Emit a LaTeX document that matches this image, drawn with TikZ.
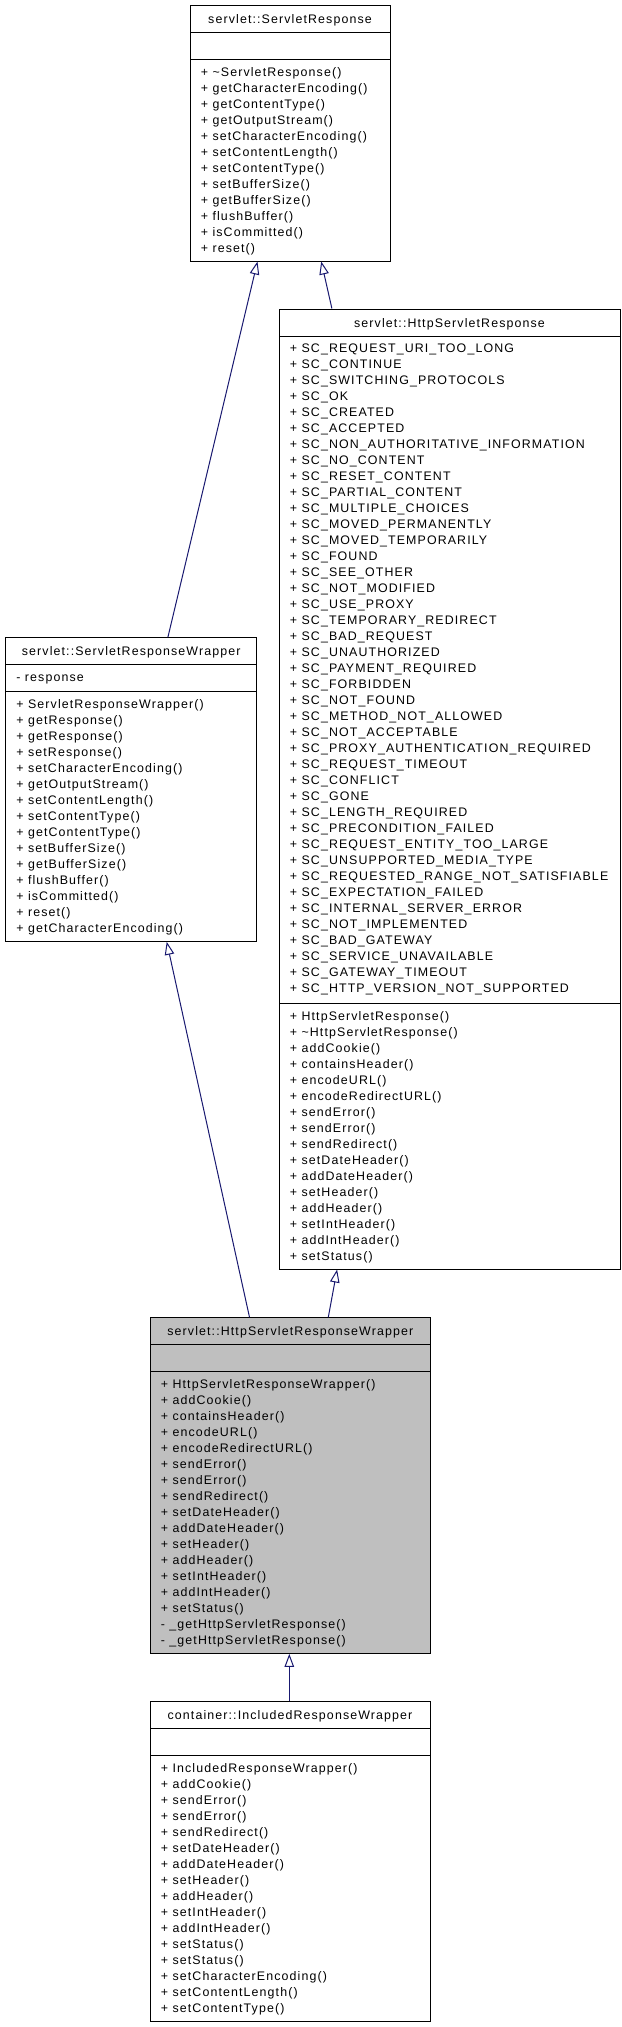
\documentclass[tikz,border=0pt]{standalone}
\usepackage{fontspec}
\newfontfamily\dox[LetterSpace=9]{Liberation Sans}
\usetikzlibrary{arrows.meta,fit}
\definecolor{edgeblue}{HTML}{191970}
\definecolor{boxgray}{HTML}{BFBFBF}
\newcommand\memberlist[4]{%
  \foreach \mtext [count=\k from 0] in {#4}{%
    \node[member] (#1\k) at (#2,{#3+16*\k}) {\mtext};
  }%
}
\begin{document}
\begin{tikzpicture}[x=0.75pt,y=-0.75pt,
  classbox/.style={draw=black,line width=0.75pt,inner sep=0pt,fill=white},
  member/.style={anchor=base west,inner sep=0pt,font=\dox\fontsize{9.3}{12}\selectfont},
  ctitle/.style={anchor=base,inner sep=0pt,font=\dox\fontsize{9.3}{12}\selectfont},
  sepline/.style={line width=0.75pt},
  inherit/.style={draw=edgeblue,line width=0.75pt,-{Triangle[open,length=9.75pt,width=7.1pt]}}]
\useasboundingbox (0,0) rectangle (621,2027);
\fill[white] (0,0) rectangle (621,2027);

% ---------- servlet::ServletResponse ----------
\node[classbox,fit={(190,5)(390,261)}] (A) {};
\draw[sepline] (190,32) -- (390,32);
\draw[sepline] (190,59) -- (390,59);
\node[ctitle] (At) at (290,23) {servlet::ServletResponse};
\memberlist{Am}{200.5}{76}{+ \textasciitilde{}ServletResponse(), + getCharacterEncoding(), + getContentType(), + getOutputStream(), + setCharacterEncoding(), + setContentLength(), + setContentType(), + setBufferSize(), + getBufferSize(), + flushBuffer(), + isCommitted(), + reset()}

% ---------- servlet::HttpServletResponse ----------
\node[classbox,fit={(279,309)(620,1269)}] (B) {};
\draw[sepline] (279,336) -- (620,336);
\draw[sepline] (279,1003) -- (620,1003);
\node[ctitle] (Bt) at (449.5,327) {servlet::HttpServletResponse};
\memberlist{Ba}{289.5}{352.5}{+ SC\_REQUEST\_URI\_TOO\_LONG, + SC\_CONTINUE, + SC\_SWITCHING\_PROTOCOLS, + SC\_OK, + SC\_CREATED, + SC\_ACCEPTED, + SC\_NON\_AUTHORITATIVE\_INFORMATION, + SC\_NO\_CONTENT, + SC\_RESET\_CONTENT, + SC\_PARTIAL\_CONTENT, + SC\_MULTIPLE\_CHOICES, + SC\_MOVED\_PERMANENTLY, + SC\_MOVED\_TEMPORARILY, + SC\_FOUND, + SC\_SEE\_OTHER, + SC\_NOT\_MODIFIED, + SC\_USE\_PROXY, + SC\_TEMPORARY\_REDIRECT, + SC\_BAD\_REQUEST, + SC\_UNAUTHORIZED, + SC\_PAYMENT\_REQUIRED, + SC\_FORBIDDEN, + SC\_NOT\_FOUND, + SC\_METHOD\_NOT\_ALLOWED, + SC\_NOT\_ACCEPTABLE, + SC\_PROXY\_AUTHENTICATION\_REQUIRED, + SC\_REQUEST\_TIMEOUT, + SC\_CONFLICT, + SC\_GONE, + SC\_LENGTH\_REQUIRED, + SC\_PRECONDITION\_FAILED, + SC\_REQUEST\_ENTITY\_TOO\_LARGE, + SC\_UNSUPPORTED\_MEDIA\_TYPE, + SC\_REQUESTED\_RANGE\_NOT\_SATISFIABLE, + SC\_EXPECTATION\_FAILED, + SC\_INTERNAL\_SERVER\_ERROR, + SC\_NOT\_IMPLEMENTED, + SC\_BAD\_GATEWAY, + SC\_SERVICE\_UNAVAILABLE, + SC\_GATEWAY\_TIMEOUT, + SC\_HTTP\_VERSION\_NOT\_SUPPORTED}
\memberlist{Bm}{289.5}{1020}{+ HttpServletResponse(), + \textasciitilde{}HttpServletResponse(), + addCookie(), + containsHeader(), + encodeURL(), + encodeRedirectURL(), + sendError(), + sendError(), + sendRedirect(), + setDateHeader(), + addDateHeader(), + setHeader(), + addHeader(), + setIntHeader(), + addIntHeader(), + setStatus()}

% ---------- servlet::ServletResponseWrapper ----------
\node[classbox,fit={(5.6,637.7)(256.8,941.3)}] (E) {};
\draw[sepline] (5.6,664.7) -- (256.8,664.7);
\draw[sepline] (5.6,691.3) -- (256.8,691.3);
\node[ctitle] (Et) at (131.2,655.7) {servlet::ServletResponseWrapper};
\node[member] (Ea0) at (16,681.5) {- response};
\memberlist{Em}{16}{708}{+ ServletResponseWrapper(), + getResponse(), + getResponse(), + setResponse(), + setCharacterEncoding(), + getOutputStream(), + setContentLength(), + setContentType(), + getContentType(), + setBufferSize(), + getBufferSize(), + flushBuffer(), + isCommitted(), + reset(), + getCharacterEncoding()}

% ---------- servlet::HttpServletResponseWrapper ----------
\node[classbox,fill=boxgray,fit={(150,1317.7)(430.7,1653.3)}] (C) {};
\draw[sepline] (150,1344.3) -- (430.7,1344.3);
\draw[sepline] (150,1371.3) -- (430.7,1371.3);
\node[ctitle] (Ct) at (290.3,1335.7) {servlet::HttpServletResponseWrapper};
\memberlist{Cm}{160.5}{1388}{+ HttpServletResponseWrapper(), + addCookie(), + containsHeader(), + encodeURL(), + encodeRedirectURL(), + sendError(), + sendError(), + sendRedirect(), + setDateHeader(), + addDateHeader(), + setHeader(), + addHeader(), + setIntHeader(), + addIntHeader(), + setStatus(), - \_getHttpServletResponse(), - \_getHttpServletResponse()}

% ---------- container::IncludedResponseWrapper ----------
\node[classbox,fit={(150,1701.7)(430,2021.7)}] (D) {};
\draw[sepline] (150,1728.3) -- (430,1728.3);
\draw[sepline] (150,1755.3) -- (430,1755.3);
\node[ctitle] (Dt) at (290,1719.7) {container::IncludedResponseWrapper};
\memberlist{Dm}{160.5}{1772}{+ IncludedResponseWrapper(), + addCookie(), + sendError(), + sendError(), + sendRedirect(), + setDateHeader(), + addDateHeader(), + setHeader(), + addHeader(), + setIntHeader(), + addIntHeader(), + setStatus(), + setStatus(), + setCharacterEncoding(), + setContentLength(), + setContentType()}

% ---------- inheritance connectors ----------
\draw[inherit] ([xshift=122.1pt]E.north west) -- ([xshift=51pt]A.south west);
\draw[inherit] ([xshift=40.05pt]B.north west) -- ([xshift=98.8pt]A.south west);
\draw[inherit] ([xshift=75pt]C.north west) -- ([xshift=121.2pt]E.south west);
\draw[inherit] ([xshift=134.1pt]C.north west) -- ([xshift=43.95pt]B.south west);
\draw[inherit] ([xshift=104.85pt]D.north west) -- ([xshift=104.85pt]C.south west);
\end{tikzpicture}
\end{document}
